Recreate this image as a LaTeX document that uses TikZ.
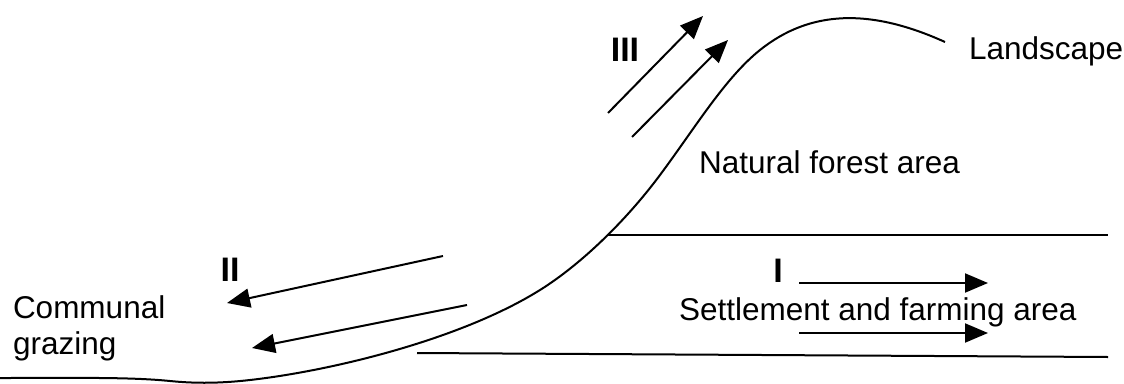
\documentclass[tikz,border=0pt]{standalone}
\usepackage{fontspec}
\setmainfont{Liberation Sans}
\usetikzlibrary{arrows.meta}

\begin{document}
\begin{tikzpicture}[
        x=1pt, y=-1pt,
        >={Triangle[length=23pt, width=19pt]},
        line width=2pt,
        every node/.style={inner sep=0pt},
        area text/.style={anchor=base west, font=\fontsize{31.5}{36}\selectfont},
        numeral/.style={font=\bfseries\fontsize{34}{36}\selectfont}
    ]
        \useasboundingbox (0,0) rectangle (1124,383);

        % slope of the landscape
        \coordinate (g0) at (0,378);
        \coordinate (ridge) at (945,42);
        \draw (g0) .. controls (80,378) and (130,377) .. (170,381)
            .. controls (190,383) and (215,384) .. (250,380)
            .. controls (330,371) and (460,340) .. (540,290)
            .. controls (580,265) and (625,222) .. (660,175)
            .. controls (695,128) and (725,78) .. (760,50)
            .. controls (810,10) and (870,8) .. (ridge);

        % zone borders
        \coordinate (f1) at (608,235);
        \coordinate (f2) at (1108,235);
        \coordinate (s1) at (417,353);
        \coordinate (s2) at (1108,357);
        \draw (f1) -- (f2);
        \draw (s1) -- (s2);

        % labels
        \node[area text] (land) at (968,59) {Landscape};
        \node[area text] (forest) at (698,173) {Natural forest area};
        \node[area text] (farm) at (678,320) {Settlement and farming area};
        \node[area text] (comm) at (12,318) {Communal};
        \node[area text] (graz) at (12,354) {grazing};

        \node[numeral] (n3) at (625,50) {III};
        \node[numeral] (n2) at (230,270) {II};
        \node[numeral] (n1) at (778,271) {I};

        % movements
        \coordinate (a3s) at (608,113);
        \coordinate (a3e) at (703,16);
        \coordinate (b3s) at (632,137);
        \coordinate (b3e) at (728,40);
        \coordinate (a2s) at (443,256);
        \coordinate (a2e) at (227,303);
        \coordinate (b2s) at (467,305);
        \coordinate (b2e) at (252,348);
        \coordinate (a1s) at (799,283);
        \coordinate (a1e) at (988,283);
        \coordinate (b1s) at (799,333);
        \coordinate (b1e) at (988,333);
        \path[->]
        (a3s) edge (a3e)
        (b3s) edge (b3e)
        (a2s) edge (a2e)
        (b2s) edge (b2e)
        (a1s) edge (a1e)
        (b1s) edge (b1e);
\end{tikzpicture}
\end{document}
